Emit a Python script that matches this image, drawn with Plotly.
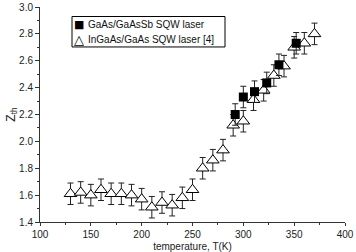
import plotly.graph_objects as go

# InGaAs/GaAs SQW laser [4]
t_ingaas = [130, 140, 150, 160, 170, 180, 190, 200, 210, 220, 230, 240, 250,
            260, 270, 280, 290, 300, 310, 320, 330, 340, 350, 360, 370]
z_ingaas = [1.61, 1.62, 1.60, 1.64, 1.61, 1.61, 1.60, 1.57, 1.51, 1.545, 1.525, 1.58, 1.64,
            1.80, 1.86, 1.935, 2.12, 2.15, 2.31, 2.38, 2.49, 2.56, 2.70, 2.73, 2.80]
err_ingaas = 0.08

# GaAs/GaAsSb SQW laser
t_gaassb = [292, 300, 311, 323, 335, 352]
z_gaassb = [2.20, 2.33, 2.37, 2.435, 2.57, 2.73]
err_gaassb = 0.08

series_names = ["GaAs/GaAsSb SQW laser", "InGaAs/GaAs SQW laser [4]"]

x_ticks = [100, 150, 200, 250, 300, 350, 400]
y_ticks = [1.4, 1.6, 1.8, 2.0, 2.2, 2.4, 2.6, 2.8, 3.0]

font = "Liberation Sans, Arial, sans-serif"
W, H = 356, 252
ML, MR, MT, MB = 40, 11, 1, 25
PW, PH = W - ML - MR, H - MT - MB


def px(x):
    return (x - ML) / PW


def py(y):
    return 1 - (y - MT) / PH


fig = go.Figure()
fig.add_trace(go.Scatter(
    x=t_ingaas, y=z_ingaas, mode="markers", name=series_names[1],
    marker=dict(symbol="triangle-up", size=11, color="white",
                line=dict(color="black", width=1)),
    error_y=dict(type="constant", value=err_ingaas, color="#222", thickness=1, width=3),
))
fig.add_trace(go.Scatter(
    x=t_gaassb, y=z_gaassb, mode="markers", name=series_names[0],
    marker=dict(symbol="square", size=9, color="black"),
    error_y=dict(type="constant", value=err_gaassb, color="#222", thickness=1, width=3),
))

# legend box drawn by hand
fig.add_shape(type="rect", xref="paper", yref="paper",
              x0=px(72), x1=px(225), y0=py(43), y1=py(11),
              line=dict(color="black", width=1), fillcolor="white", layer="above")
legend_rows = [(19, "■", 11), (35, "△", 13)]
for (yy, sym, sz), name in zip(legend_rows, series_names):
    fig.add_annotation(xref="paper", yref="paper", x=px(79), y=py(yy),
                       text=sym, showarrow=False, xanchor="center", yanchor="middle",
                       font=dict(family="DejaVu Sans", size=sz, color="black"),
                       height=14, borderpad=0)
    fig.add_annotation(xref="paper", yref="paper", x=px(87), y=py(yy),
                       text=name, showarrow=False, xanchor="left", yanchor="middle",
                       font=dict(family=font, size=10, color="#111"),
                       height=14, borderpad=0)

fig.update_layout(
    width=W, height=H,
    margin=dict(l=ML, r=MR, t=MT, b=MB),
    paper_bgcolor="white", plot_bgcolor="white",
    font=dict(family=font, size=10, color="#222"),
    showlegend=False,
    xaxis=dict(range=[100, 400], tickvals=x_ticks, ticktext=[str(v) for v in x_ticks],
               showline=True, linecolor="#333", linewidth=1, showgrid=False, zeroline=False,
               ticks="outside", ticklen=3, tickcolor="#333", ticklabeloverflow="allow",
               minor=dict(dtick=25, tick0=100, ticks="outside", ticklen=2, tickcolor="#333"),
               title=dict(text="temperature, T(K)", font=dict(size=10), standoff=4),
               tickfont=dict(size=10, color="#222")),
    yaxis=dict(range=[1.4, 3.0], tickvals=y_ticks, ticktext=[f"{v:.1f}" for v in y_ticks],
               showline=True, linecolor="#333", linewidth=1, showgrid=False, zeroline=False,
               ticks="outside", ticklen=4, tickcolor="#333", ticklabeloverflow="allow",
               minor=dict(dtick=0.1, tick0=1.4, ticks="outside", ticklen=2, tickcolor="#333"),
               title=dict(text="Z<sub>th</sub>", font=dict(size=12), standoff=0),
               tickfont=dict(size=10, color="#222")),
)

fig.write_html("out.html")
